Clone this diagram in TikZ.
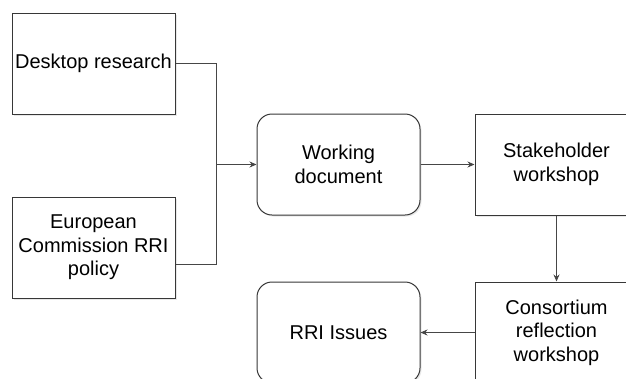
\documentclass[tikz,border=0pt]{standalone}
\usepackage{fontspec}
\setmainfont{Liberation Sans}
\usepackage{xcolor}
\usetikzlibrary{arrows.meta, positioning, shadows}
\definecolor{boxLine}{RGB}{55,55,55}
\definecolor{flowLine}{RGB}{70,70,70}

\tikzset{
  stepbox/.style={draw=boxLine, line width=1pt, fill=white, inner sep=2pt,
    minimum width=163pt, minimum height=101pt, align=center,
    font=\fontsize{20}{23.5}\selectfont,
    drop shadow={shadow xshift=1.5pt, shadow yshift=-1.5pt, opacity=0.18}},
  docbox/.style={stepbox, rounded corners=15pt},
  feed/.style={draw=flowLine, line width=1pt},
  flow/.style={feed, -{Stealth[length=7pt, width=6pt]}},
}

\begin{document}
\begin{tikzpicture}[x=1pt, y=-1pt]
\useasboundingbox (0,0) rectangle (626,378);
\clip (0,0) rectangle (626,378);
% inputs
\node[stepbox] (desk) at (93.5,63.5) {Desktop research};
\node[stepbox] (ecpol) at (93.5,247.5) {European\\Commission RRI\\policy};
% main flow
\node[docbox] (workdoc) at (338.5,164.5) {Working\\document};
\node[stepbox] (stake) at (556.5,164.5) {Stakeholder\\workshop};
\node[stepbox] (consort) at (556.5,332.5) {Consortium\\reflection\\workshop};
\node[docbox] (rri) at (338.5,332.5) {RRI Issues};
% merge of the two inputs
\coordinate (join) at (216.5,164.5);
\draw[feed] (desk.east) -| (join);
\draw[feed] ([yshift=-16.5pt]ecpol.east) -| (join);
\draw[flow] (join) -- (workdoc.west);
\draw[flow] (workdoc.east) -- (stake.west);
\draw[flow] (stake.south) -- (consort.north);
\draw[flow] (consort.west) -- (rri.east);
\end{tikzpicture}
\end{document}
